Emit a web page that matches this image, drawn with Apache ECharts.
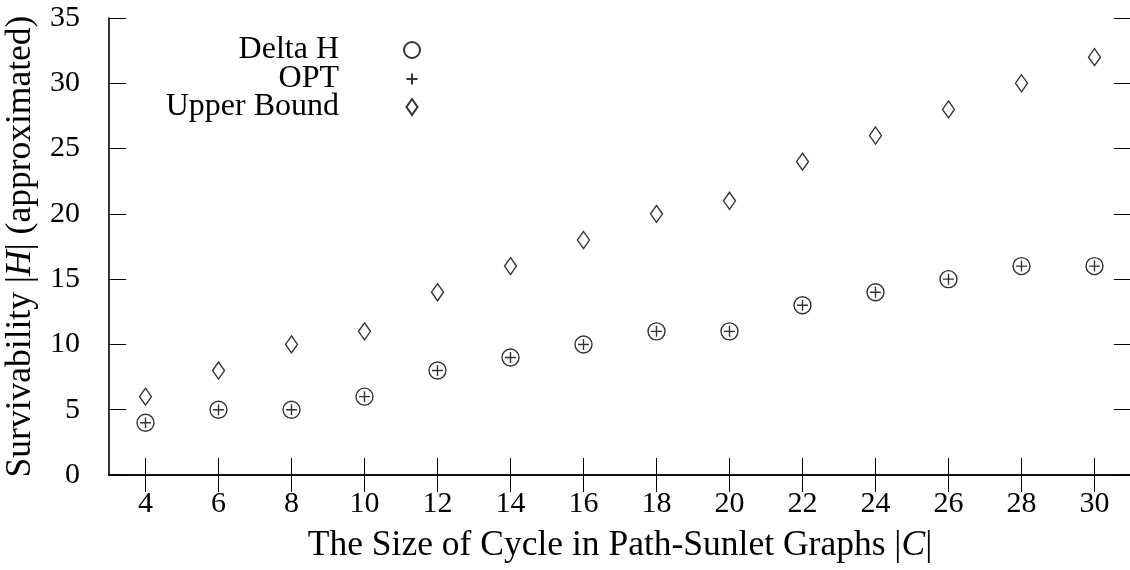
<!DOCTYPE html>
<html>
<head>
<meta charset="utf-8">
<script src="https://cdn.jsdelivr.net/npm/echarts@6/dist/echarts.min.js"></script>
<style>html,body{margin:0;padding:0;background:#fff}#c{width:1130px;height:570px}</style>
</head>
<body>
<div id="c"></div>
<script>
var cycleSizes = ['4','6','8','10','12','14','16','18','20','22','24','26','28','30'];
var deltaH     = [4, 5, 5, 6, 8, 9, 10, 11, 11, 13, 14, 15, 16, 16];
var opt        = [4, 5, 5, 6, 8, 9, 10, 11, 11, 13, 14, 15, 16, 16];
var upperBound = [6, 8, 10, 11, 14, 16, 18, 20, 21, 24, 26, 28, 30, 32];

var FONT = 'Liberation Serif';
var TICK_FS = 30;
var LEG_FS = 32;
var TITLE_FS = 35.5;
var plusPath = 'path://M0,-10L0,10M-10,0L10,0';

var chart = echarts.init(document.getElementById('c'), null, {renderer: 'canvas'});
var axisLine = {show: true, lineStyle: {color: '#000', width: 1.6}};
var tick = {show: true, inside: true, length: 17, lineStyle: {color: '#000', width: 1}};

function legendAt(name, top, w, h) {
  return {
    data: [name], orient: 'vertical', align: 'right', right: 717 - w / 2, top: top,
    padding: 0, itemWidth: w, itemHeight: h, selectedMode: false,
    textStyle: {fontFamily: FONT, fontSize: LEG_FS, lineHeight: 32, color: '#000', padding: [0, 68 - w / 2, 0, 0]}
  };
}

chart.setOption({
  animation: false,
  backgroundColor: '#fff',
  grid: {left: 109, right: -1, top: 18, bottom: 95, containLabel: false, outerBoundsMode: 'none'},
  legend: [
    legendAt('Delta H', 34, 16, 16),
    legendAt('OPT', 63, 11, 11),
    legendAt('Upper Bound', 91, 11, 16)
  ],
  xAxis: [{
    type: 'category', data: cycleSizes, boundaryGap: true, position: 'bottom',
    axisLine: axisLine, axisTick: Object.assign({alignWithLabel: true}, tick),
    axisLabel: {fontFamily: FONT, fontSize: TICK_FS, color: '#000', margin: 14},
    splitLine: {show: false},
    name: 'The Size of Cycle in Path-Sunlet Graphs |{i|C}|', nameLocation: 'middle', nameGap: 53,
    nameTextStyle: {fontFamily: FONT, fontSize: TITLE_FS, color: '#000',
      rich: {i: {fontFamily: FONT, fontSize: TITLE_FS, fontStyle: 'italic', color: '#000'}}}
  }, {
    type: 'category', data: cycleSizes, boundaryGap: true, position: 'top',
    axisLine: axisLine, axisTick: Object.assign({alignWithLabel: true}, tick),
    axisLabel: {show: false}, splitLine: {show: false}
  }],
  yAxis: [{
    type: 'value', min: 0, max: 35, interval: 5, position: 'left',
    axisLine: axisLine, axisTick: tick, splitLine: {show: false},
    axisLabel: {fontFamily: FONT, fontSize: TICK_FS, color: '#000', margin: 29},
    name: 'Survivability |{i|H}| (approximated)', nameLocation: 'middle', nameGap: 68, nameRotate: 90,
    nameTextStyle: {fontFamily: FONT, fontSize: TITLE_FS, color: '#000',
      rich: {i: {fontFamily: FONT, fontSize: TITLE_FS, fontStyle: 'italic', color: '#000'}}}
  }, {
    type: 'value', min: 0, max: 35, interval: 5, position: 'right',
    axisLine: axisLine, axisTick: tick, splitLine: {show: false},
    axisLabel: {show: false}
  }],
  series: [{
    name: 'Delta H', type: 'scatter', data: deltaH, symbol: 'circle', symbolSize: 17,
    itemStyle: {color: 'rgba(0,0,0,0)', borderColor: '#000', borderWidth: 1.4}, z: 3
  }, {
    name: 'OPT', type: 'scatter', data: opt, symbol: plusPath, symbolSize: 11, symbolKeepAspect: true,
    itemStyle: {color: 'rgba(0,0,0,0)', borderColor: '#000', borderWidth: 1.4}, z: 4
  }, {
    name: 'Upper Bound', type: 'scatter', data: upperBound, symbol: 'diamond', symbolSize: [12, 17],
    itemStyle: {color: 'rgba(0,0,0,0)', borderColor: '#000', borderWidth: 1.4}, z: 3
  }]
});
</script>
</body>
</html>
